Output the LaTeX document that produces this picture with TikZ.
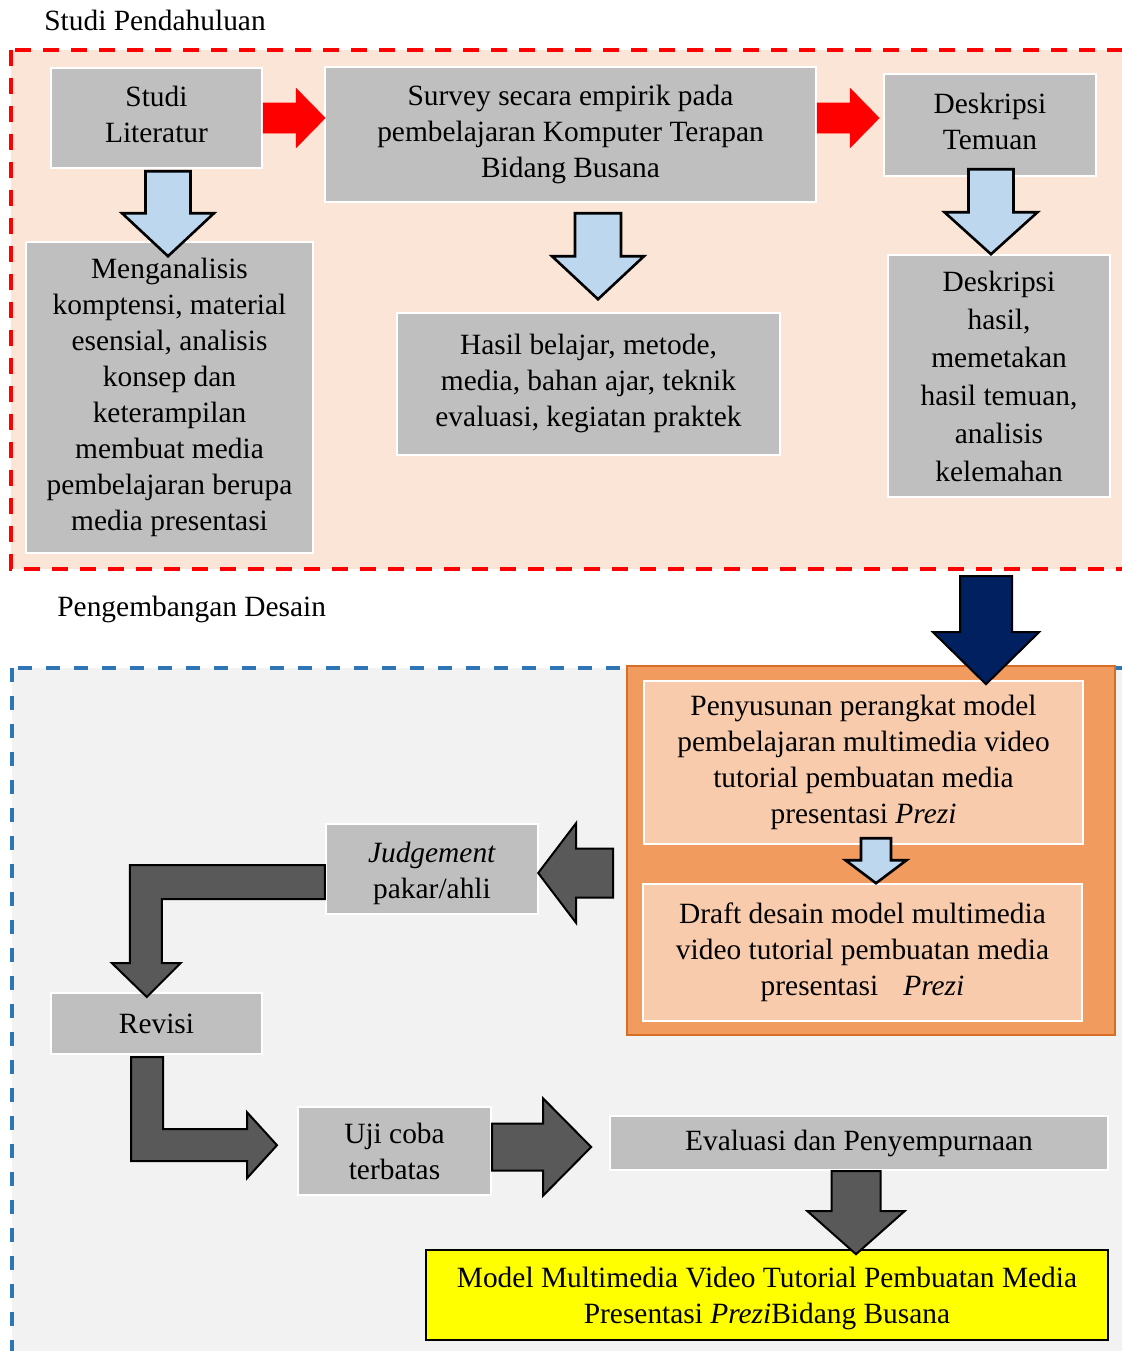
\documentclass[tikz,border=0pt]{standalone}
\usepackage{fontspec}
\setmainfont{Liberation Serif}
\usetikzlibrary{calc}

\definecolor{peach}{RGB}{251,229,214}
\definecolor{boxgray}{RGB}{191,191,191}
\definecolor{lightblue}{RGB}{189,215,238}
\definecolor{navy}{RGB}{0,32,96}
\definecolor{darkarr}{RGB}{89,89,89}
\definecolor{pale}{RGB}{242,242,242}
\definecolor{dashblue}{RGB}{46,117,182}
\definecolor{orangefill}{RGB}{241,155,94}
\definecolor{orangeline}{RGB}{214,110,40}
\definecolor{orangebox}{RGB}{248,203,173}
\definecolor{brightyellow}{RGB}{255,255,0}

% block arrows: style, start (middle of the shaft end), length, half shaft, half head, head length
\newcommand{\arrdown}[6]{\draw[#1] (#2) ++(-#4,0) -- ++(0,#3-#6) -- ++(#4-#5,0) -- ++(#5,#6) -- ++(#5,-#6) -- ++(#4-#5,0) -- ++(0,-#3+#6) -- cycle;}
\newcommand{\arrright}[6]{\draw[#1] (#2) ++(0,-#4) -- ++(#3-#6,0) -- ++(0,#4-#5) -- ++(#6,#5) -- ++(-#6,#5) -- ++(0,#4-#5) -- ++(-#3+#6,0) -- cycle;}
\newcommand{\arrleft}[6]{\draw[#1] (#2) ++(0,-#4) -- ++(-#3+#6,0) -- ++(0,#4-#5) -- ++(-#6,#5) -- ++(#6,#5) -- ++(0,#4-#5) -- ++(#3-#6,0) -- cycle;}

\begin{document}
\begin{tikzpicture}[x=0.5pt, y=-0.5pt,
  font=\fontsize{14.7}{18}\selectfont,
  box/.style={draw=white, line width=1.2pt, fill=boxgray, align=center, inner sep=0pt},
  inbox/.style={box, fill=orangebox},
  redarr/.style={fill=red, draw=red, line width=0.3pt},
  bluearr/.style={fill=lightblue, draw=black, line width=1.3pt},
  greyarr/.style={fill=darkarr, draw=black, line width=1pt},
  navyarr/.style={fill=navy, draw=black, line width=1pt}]
  \useasboundingbox (0,0) rectangle (1122,1351);
  \clip (0,0) rectangle (1122,1351);

  % Studi Pendahuluan
  \node[anchor=west, inner sep=0pt] (lblstudi) at (44,20) {Studi Pendahuluan};
  \draw[fill=peach, draw=red, line width=1.6pt, dash pattern=on 8pt off 6pt] (11,50) rectangle (1140,569);

  \node[box, minimum width=105.5pt, minimum height=50pt] (lit) at (156.5,118) {Studi\\Literatur\\[-14pt]};
  \node[box, minimum width=245.5pt, minimum height=67.5pt] (survey) at (570.5,134.5)
    {Survey secara empirik pada\\pembelajaran Komputer Terapan\\Bidang Busana};
  \node[box, minimum width=106pt, minimum height=51pt] (temuan) at (990,125) {Deskripsi\\Temuan\\[-14pt]};
  \node[box, minimum width=143.5pt, minimum height=155.5pt] (ana) at (169.5,397.5)
    {Menganalisis\\komptensi, material\\esensial, analisis\\konsep dan\\keterampilan\\membuat media\\pembelajaran berupa\\media presentasi};
  \node[box, minimum width=191.5pt, minimum height=71pt] (hasil) at (588.5,384)
    {Hasil belajar, metode,\\media, bahan ajar, teknik\\evaluasi, kegiatan praktek\\[-14pt]};
  \node[box, minimum width=111pt, minimum height=121pt, font=\fontsize{14.7}{19}\selectfont] (deskhasil) at (999,376)
    {Deskripsi\\hasil,\\memetakan\\hasil temuan,\\analisis\\kelemahan};

  \arrright{redarr}{lit.east}{62}{15}{29.5}{29}
  \arrright{redarr}{survey.east |- lit.east}{62}{15}{29.5}{29}
  \arrdown{bluearr}{$(lit.south)+(11.5,2)$}{85}{22.5}{46}{43}
  \arrdown{bluearr}{$(survey.south)+(27.5,10)$}{86}{23}{46}{43}
  \arrdown{bluearr}{$(temuan.south)+(1,-8)$}{85}{22.5}{46.5}{42}

  % Pengembangan Desain
  \node[anchor=west, inner sep=0pt] (lbldesain) at (57,609) {Pengembangan Desain};
  \draw[fill=pale, draw=dashblue, line width=1.6pt, dash pattern=on 7pt off 7pt] (12,668) rectangle (1140,1370);

  \node[draw=orangeline, line width=1.2pt, fill=orangefill, minimum width=244pt, minimum height=184.5pt] (orange) at (871,850.5) {};
  \node[inbox, minimum width=219.5pt, minimum height=81.5pt] (susun) at (863.5,762.5)
    {Penyusunan perangkat model\\pembelajaran multimedia video\\tutorial pembuatan media\\presentasi \textit{Prezi}};
  \node[inbox, minimum width=219.5pt, minimum height=68.5pt] (draft) at (862.5,952.5)
    {Draft desain model multimedia\\video tutorial pembuatan media\\presentasi\hspace{0.85em}\textit{Prezi}};
  \node[box, minimum width=106pt, minimum height=45pt] (judge) at (432,869) {\\[-3pt]\textit{Judgement}\\pakar/ahli};
  \node[box, minimum width=105.5pt, minimum height=30.5pt] (revisi) at (156.5,1023.5) {Revisi};
  \node[box, minimum width=96.5pt, minimum height=44pt] (uji) at (394.5,1151) {Uji coba\\terbatas};
  \node[box, minimum width=249pt, minimum height=27pt] (eval) at (859,1143) {Evaluasi dan Penyempurnaan};
  \node[draw=black, line width=1.3pt, fill=brightyellow, align=center, inner sep=0pt,
    minimum width=341pt, minimum height=45pt] (model) at (767,1295)
    {\\[-4pt]Model Multimedia Video Tutorial Pembuatan Media\\Presentasi \textit{Prezi}Bidang Busana};

  \arrdown{navyarr}{$(deskhasil.south)+(-13,78)$}{108}{26}{53}{52}
  \arrdown{bluearr}{$(susun.south)+(12.5,-7)$}{45}{15}{30.5}{23}
  \arrleft{greyarr}{$(judge.east)+(74,4)$}{75}{24.5}{50}{38}
  \draw[greyarr] ($(judge.west)+(0,-4)$) -- ++(-195,0) -- ++(0,98) -- ++(-18,0) -- ++(35,34)
    -- ++(34,-34) -- ++(-19,0) -- ++(0,-64) -- ++(163,0) -- cycle;
  \draw[greyarr] ($(revisi.south)+(-25.5,2)$) -- ++(0,104) -- ++(116,0) -- ++(0,17) -- ++(30,-33)
    -- ++(-30,-33) -- ++(0,17) -- ++(-84,0) -- ++(0,-72) -- cycle;
  \arrright{greyarr}{$(uji.east)+(0,-4)$}{99}{23.5}{48.5}{48}
  \arrdown{greyarr}{$(eval.south)+(-3,0)$}{83}{24.5}{48.5}{43}
\end{tikzpicture}
\end{document}
